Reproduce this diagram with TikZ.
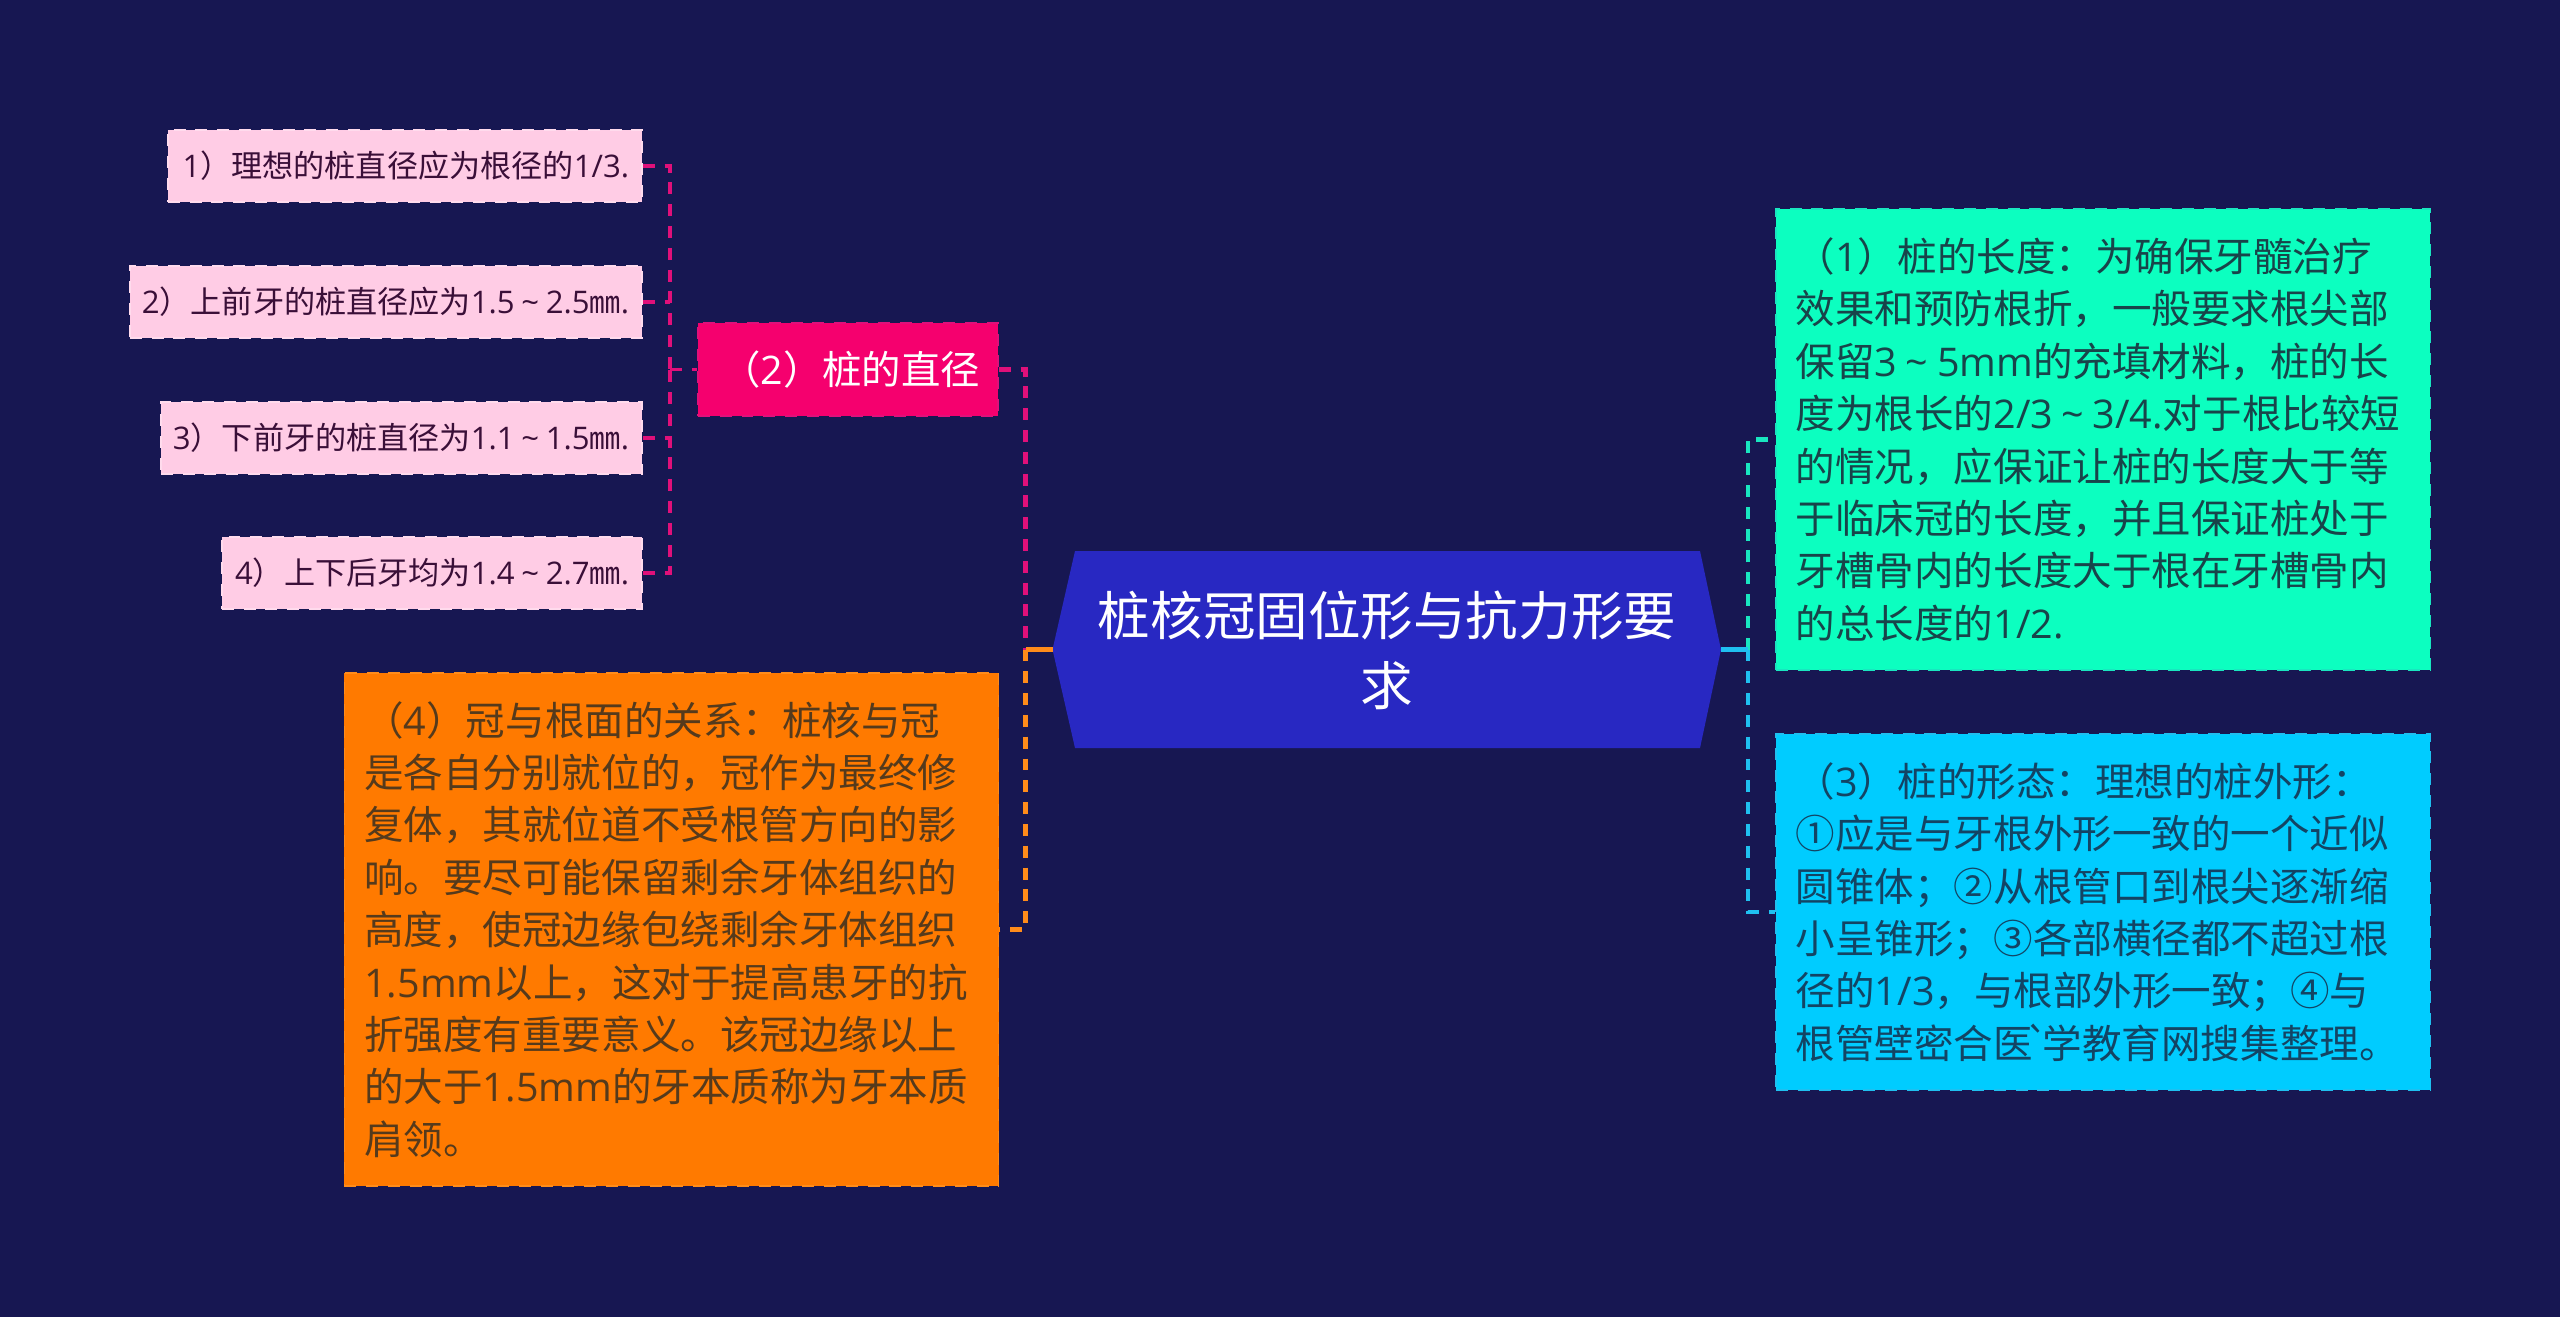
\documentclass[tikz,border=0pt]{standalone}
\usepackage{fontspec}
\setmainfont{Noto Sans CJK SC}
\newfontfamily\rawfont{Noto Sans CJK SC}
\newfontfamily\latfont{Open Sans}
\newcommand{\lat}[1]{{\latfont #1}}
\newcommand{\tld}{\makebox[1em][c]{\latfont\textasciitilde}}
\usepackage{tikz}
\definecolor{bgnavy}{HTML}{171752}
\definecolor{hubblue}{HTML}{2828C2}
\definecolor{rosefill}{HTML}{F5006E}
\definecolor{rosepale}{HTML}{FFCCE5}
\definecolor{rosetext}{HTML}{3A0F38}
\definecolor{roseline}{HTML}{E0107A}
\definecolor{orangefill}{HTML}{FF7A00}
\definecolor{orangetext}{HTML}{553A1C}
\definecolor{orangeline}{HTML}{FF8C1A}
\definecolor{tealfill}{HTML}{0CFFC0}
\definecolor{tealtext}{HTML}{18444A}
\definecolor{tealline}{HTML}{19E6C0}
\definecolor{skyfill}{HTML}{00CCFF}
\definecolor{skytext}{HTML}{134464}
\definecolor{skyline}{HTML}{1FC0F0}
\tikzset{
  box/.style={anchor=center,inner sep=0pt,line width=0.4pt,dash pattern=on 3.4pt off 2.8pt},
  small/.style={box,fill=rosepale,draw=rosepale!70!white,text=rosetext,align=right,
    font=\fontsize{8.85pt}{11pt}\selectfont},
  para/.style={box,align=left,font=\fontsize{11.24pt}{14.9pt}\selectfont},
  thinline/.style={line width=0.95pt,dash pattern=on 3.4pt off 2.8pt},
  dline/.style={line width=1.25pt,dash pattern=on 3.4pt off 2.8pt},
  sline/.style={line width=1.25pt}
}
\begin{document}
\begin{tikzpicture}[x=0.01cm,y=-0.01cm]
\useasboundingbox (0,0) rectangle (2560,1317);
\fill[color=bgnavy] (0,0) rectangle (2560,1317);

\fill[color=hubblue] (1052.5,649.5) -- (1075,551) -- (1700,551) -- (1721,649.5) -- (1700,748) -- (1075,748) -- cycle;
\coordinate (hubl) at (1052.5,649.5);
\coordinate (hubr) at (1721,649.5);
\coordinate (busl) at (1025.5,649.5);
\coordinate (busr) at (1748,649.5);
\coordinate (busd) at (670,369.5);
\node[text=white,align=center,font=\fontsize{14.95pt}{19.9pt}\selectfont] (hub) at (1387,650.5) {桩核冠固位形与抗力形要\\求};

\node[small,minimum width=4.74cm,minimum height=0.72cm] (d1) at (405,166) {\makebox[4.48cm][r]{\lat{1}）理想的桩直径应为根径的\lat{1/3.}}};
\node[small,minimum width=5.12cm,minimum height=0.72cm] (d2) at (386,302) {\makebox[4.86cm][r]{\lat{2}）上前牙的桩直径应为\lat{1.5}\tld\lat{2.5}㎜\lat{.}}};
\node[small,minimum width=4.81cm,minimum height=0.72cm] (d3) at (401.5,438) {\makebox[4.55cm][r]{\lat{3}）下前牙的桩直径为\lat{1.1}\tld\lat{1.5}㎜\lat{.}}};
\node[small,minimum width=4.20cm,minimum height=0.72cm] (d4) at (432,573) {\makebox[3.94cm][r]{\lat{4}）上下后牙均为\lat{1.4}\tld\lat{2.7}㎜\lat{.}}};

\node[box,fill=rosefill,draw=roseline,text=white,minimum width=3cm,minimum height=0.93cm,font=\fontsize{11.2pt}{14.9pt}\selectfont] (dia) at (848,369.5) {\makebox[2.64cm][r]{（\lat{2}）桩的直径}};

\node[para,fill=orangefill,draw=orangeline,text=orangetext,text width=6.14cm,minimum height=5.13cm,inner xsep=0.2cm] (crown) at (671.5,929.5) {（\lat{4}）冠与根面的关系：桩核与冠\\是各自分别就位的，冠作为最终修\\复体，其就位道不受根管方向的影\\响。要尽可能保留剩余牙体组织的\\高度，使冠边缘包绕剩余牙体组织\\\lat{1.5mm}以上，这对于提高患牙的抗\\折强度有重要意义。该冠边缘以上\\的大于\lat{1.5mm}的牙本质称为牙本质\\肩领。};

\node[para,fill=tealfill,draw=tealline,text=tealtext,text width=6.14cm,minimum height=4.61cm,inner xsep=0.2cm] (len) at (2103,439.5) {（\lat{1}）桩的长度：为确保牙髓治疗\\效果和预防根折，一般要求根尖部\\保留\lat{3}\tld\lat{5mm}的充填材料，桩的长\\度为根长的\lat{2/3}\tld\lat{3/4.}对于根比较短\\的情况，应保证让桩的长度大于等\\于临床冠的长度，并且保证桩处于\\牙槽骨内的长度大于根在牙槽骨内\\的总长度的\lat{1/2.}};

\node[para,fill=skyfill,draw=skyline,text=skytext,text width=6.14cm,minimum height=3.56cm,inner xsep=0.2cm] (form) at (2103,912) {（\lat{3}）桩的形态：理想的桩外形：\\①应是与牙根外形一致的一个近似\\圆锥体；②从根管口到根尖逐渐缩\\小呈锥形；③各部横径都不超过根\\径的\lat{1/3}，与根部外形一致；④与\\根管壁密合医\makebox[0.25em][c]{\rawfont`}学教育网搜集整理。};

\draw[thinline,color=roseline] (d1.east) -| (busd);
\draw[thinline,color=roseline] (d2.east) -- (d2.east -| busd);
\draw[thinline,color=roseline] (d3.east) -- (d3.east -| busd);
\draw[thinline,color=roseline] (d4.east) -| (busd);
\draw[thinline,color=roseline] (busd) -- (dia.west);
\draw[dline,color=roseline] (dia.east) -| (busl);
\draw[sline,color=orangeline] (hubl) -- (busl);
\draw[dline,color=orangeline] (busl) |- (crown.east);
\draw[dline,color=tealline] (busr) |- (len.west);
\draw[dline,color=skyline] (busr) |- (form.west);
\draw[sline,color=skyline] (hubr) -- (busr);
\end{tikzpicture}
\end{document}
